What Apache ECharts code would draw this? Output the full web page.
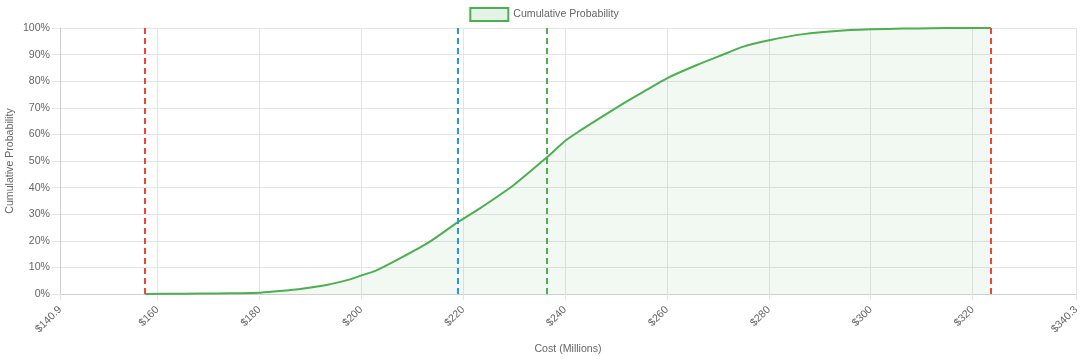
<!DOCTYPE html>
<html>
<head>
<meta charset="utf-8">
<script src="https://cdn.jsdelivr.net/npm/echarts@6/dist/echarts.min.js"></script>
<style>
html,body{margin:0;padding:0;background:#fff;}
#chart{width:1088px;height:359px;}
</style>
</head>
<body>
<div id="chart"></div>
<script>
// Cost (millions) and cumulative probability (%)
const costs = [157.6, 165, 172, 176, 180.2, 184, 188.7, 193.2, 197.8, 199.8, 203.1, 207.6, 213.5, 218.9, 223.3, 229.9, 236.4, 240.2, 242.9, 246.9, 251.5, 256, 260, 265.9, 270.4, 275, 280.3, 286.8, 293.3, 299.9, 306.4, 312, 318, 323.6];
const cumProb = [0, 0.1, 0.2, 0.3, 0.5, 1.1, 2.1, 3.4, 5.5, 6.8, 9.0, 13.4, 19.7, 26.9, 32.2, 40.9, 51.3, 57.8, 61.3, 66.2, 71.7, 76.7, 81.1, 86.1, 89.5, 93, 95.5, 97.7, 98.9, 99.5, 99.8, 99.9, 100, 100];
const xTicks = [140.9, 160, 180, 200, 220, 240, 260, 280, 300, 320, 340.3];
const markerValues = [157.6, 218.9, 236.4, 323.6];
const markerColors = ['#f44336', '#2196f3', '#4caf50', '#f44336'];
const seriesName = 'Cumulative Probability';

const green = '#4caf50';
const gridColor = '#e5e5e5';
const textColor = '#666';
const font = 'Liberation Sans, Arial, Helvetica, sans-serif';
const fs = 10.6;

const chart = echarts.init(document.getElementById('chart'), null, {renderer: 'canvas'});
chart.setOption({
  animation: false,
  textStyle: {fontFamily: font},
  legend: {
    top: 2,
    left: 'center',
    itemWidth: 38,
    itemHeight: 13,
    itemGap: 10,
    textStyle: {color: textColor, fontSize: fs, fontFamily: font},
    data: [{
      name: seriesName,
      icon: 'rect',
      itemStyle: {color: 'rgba(76,175,80,0.15)', borderColor: green, borderWidth: 2}
    }]
  },
  grid: {left: 60, right: 12, top: 28, bottom: 65, containLabel: false, outerBoundsMode: 'none'},
  xAxis: {
    type: 'value',
    min: 140.9,
    max: 340.3,
    name: 'Cost (Millions)',
    nameLocation: 'middle',
    nameGap: 50,
    nameMoveOverlap: false,
    nameTextStyle: {color: textColor, fontSize: fs, fontFamily: font},
    axisLine: {show: true, lineStyle: {color: '#cfcfcf'}},
    axisTick: {show: true, length: 6, lineStyle: {color: gridColor}, customValues: xTicks},
    axisLabel: {
      customValues: xTicks,
      rotate: 45,
      margin: 14,
      color: textColor,
      fontSize: fs,
      fontFamily: font,
      formatter: v => '$' + v,
      showMinLabel: true,
      showMaxLabel: true
    },
    splitLine: {show: true, lineStyle: {color: gridColor}}
  },
  yAxis: {
    type: 'value',
    min: 0,
    max: 100,
    interval: 10,
    name: 'Cumulative Probability',
    nameLocation: 'middle',
    nameGap: 44,
    nameMoveOverlap: false,
    nameTextStyle: {color: textColor, fontSize: fs, fontFamily: font},
    axisLine: {show: true, lineStyle: {color: '#cfcfcf'}},
    axisTick: {show: true, length: 8, lineStyle: {color: gridColor}},
    axisLabel: {color: textColor, fontSize: fs, fontFamily: font, margin: 10, formatter: '{value}%'},
    splitLine: {show: true, lineStyle: {color: gridColor}}
  },
  series: [{
    name: seriesName,
    type: 'line',
    data: costs.map((c, i) => [c, cumProb[i]]),
    showSymbol: false,
    symbol: 'none',
    smooth: 0.2,
    lineStyle: {color: green, width: 2},
    itemStyle: {color: green},
    areaStyle: {color: 'rgba(76,175,80,0.1)'},
    markLine: {
      silent: true,
      symbol: ['none', 'none'],
      label: {show: false},
      data: markerValues.map((v, i) => ({
        xAxis: v,
        lineStyle: {color: markerColors[i], type: [6, 4], width: 2}
      }))
    }
  }]
});
</script>
</body>
</html>
